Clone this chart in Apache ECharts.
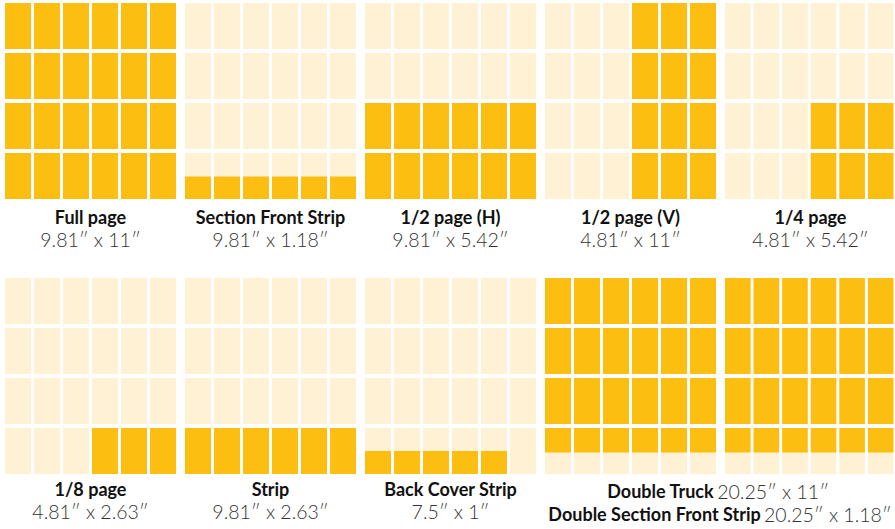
<!DOCTYPE html>
<html>
<head>
<meta charset="utf-8">
<script src="https://cdn.jsdelivr.net/npm/echarts@6/dist/echarts.min.js"></script>
<style>
html,body{margin:0;padding:0;background:#fff;}
#chart{width:895px;height:529px;}
</style>
</head>
<body>
<div id="chart"></div>
<script>
// ---- data ----
const panelTitles = ["Full page", "Section Front Strip", "1/2 page (H)", "1/2 page (V)", "1/4 page",
                     "1/8 page", "Strip", "Back Cover Strip", "", ""];
const panelSizes  = ["9.81\u2033 x 11\u2033", "9.81\u2033 x 1.18\u2033", "9.81\u2033 x 5.42\u2033", "4.81\u2033 x 11\u2033", "4.81\u2033 x 5.42\u2033",
                     "4.81\u2033 x 2.63\u2033", "9.81\u2033 x 2.63\u2033", "7.5\u2033 x 1\u2033", "", ""];
// gold (ad) extent in column units (0..6) and row units from the bottom (0..4)
const goldCols = [[0,6],[0,6],[0,6],[3,6],[3,6],[3,6],[0,6],[0,5],[0,6],[0,6]];
const goldRows = [[0,4],[0,0.49],[0,2],[0,4],[0,2],[0,1],[0,1],[0,0.5],[0.47,4],[0.47,4]];
const doubleTitles = ["Double Truck", "Double Section Front Strip"];
const doubleSizes  = ["20.25\u2033 x 11\u2033", "20.25\u2033 x 1.18\u2033"];
const COLS = 6, ROWS = 4;

// ---- layout ----
const GOLD = '#FDBE12', CREAM = '#FEF1D4';
const FONT = 'Lato, "Noto Sans", sans-serif';
const gridLeft = [3.5, 183.5, 363.5, 543.5, 723.5];
const gridTop = [1, 276];
const GW = 174, GH = 200, GAPX = 1.5, GAPY = 2;

const grids = [], xAxes = [], yAxes = [], series = [];
for (let p = 0; p < 10; p++) {
  const rowI = Math.floor(p / 5), colI = p % 5;
  grids.push({left: gridLeft[colI], top: gridTop[rowI], width: GW, height: GH, containLabel: false});
  xAxes.push({type: 'value', gridIndex: p, min: 0, max: COLS, show: false});
  yAxes.push({type: 'value', gridIndex: p, min: 0, max: ROWS, show: false});
  const data = [];
  for (let r = 0; r < ROWS; r++) for (let c = 0; c < COLS; c++) {
    data.push([c, r, goldCols[p][0], goldCols[p][1], goldRows[p][0], goldRows[p][1]]);
  }
  series.push({
    type: 'custom', xAxisIndex: p, yAxisIndex: p, silent: true, animation: false,
    data: data,
    renderItem: function (params, api) {
      const c = api.value(0), r = api.value(1);
      const tl = api.coord([c, r + 1]), br = api.coord([c + 1, r]);
      const x0 = tl[0] + GAPX, x1 = br[0] - GAPX, y0 = tl[1] + GAPY, y1 = br[1] - GAPY;
      const children = [{type: 'rect', shape: {x: x0, y: y0, width: x1 - x0, height: y1 - y0}, style: {fill: CREAM}}];
      const g0 = api.coord([api.value(2), api.value(5)]);
      const g1 = api.coord([api.value(3), api.value(4)]);
      const ix0 = Math.max(x0, g0[0]), ix1 = Math.min(x1, g1[0]);
      const iy0 = Math.max(y0, g0[1]), iy1 = Math.min(y1, g1[1]);
      if (ix1 > ix0 && iy1 > iy0) {
        children.push({type: 'rect', shape: {x: ix0, y: iy0, width: ix1 - ix0, height: iy1 - iy0}, style: {fill: GOLD}});
      }
      return {type: 'group', children: children};
    }
  });
}

// ---- text ----
const TS = 18, SS = 19.5;
const graphics = [];
const titleY = [217, 489], sizeY = [239, 511];
for (let p = 0; p < 8; p++) {
  const rowI = Math.floor(p / 5), colI = p % 5;
  const cx = gridLeft[colI] + GW / 2;
  graphics.push({type: 'text', x: cx, y: titleY[rowI], style: {text: panelTitles[p], align: 'center', verticalAlign: 'middle',
    fontFamily: FONT, fontSize: TS, fontWeight: 'bold', fill: '#111'}});
  graphics.push({type: 'text', x: cx, y: sizeY[rowI], style: {text: panelSizes[p], align: 'center', verticalAlign: 'middle',
    fontFamily: FONT, fontSize: SS, fontWeight: 300, fill: '#333'}});
}
const dblY = [491, 514];
const dblX = [718, 720];
for (let i = 0; i < 2; i++) {
  graphics.push({type: 'text', x: dblX[i], y: dblY[i], style: {
    text: '{b|' + doubleTitles[i] + '} {n|' + doubleSizes[i] + '}', align: 'center', verticalAlign: 'middle',
    rich: {
      b: {fontFamily: FONT, fontSize: TS, fontWeight: 'bold', fill: '#111'},
      n: {fontFamily: FONT, fontSize: SS, fontWeight: 300, fill: '#333'}
    }}});
}

const chart = echarts.init(document.getElementById('chart'), null, {renderer: 'svg'});
chart.setOption({
  animation: false,
  grid: grids, xAxis: xAxes, yAxis: yAxes, series: series,
  graphic: graphics
});
</script>
</body>
</html>
